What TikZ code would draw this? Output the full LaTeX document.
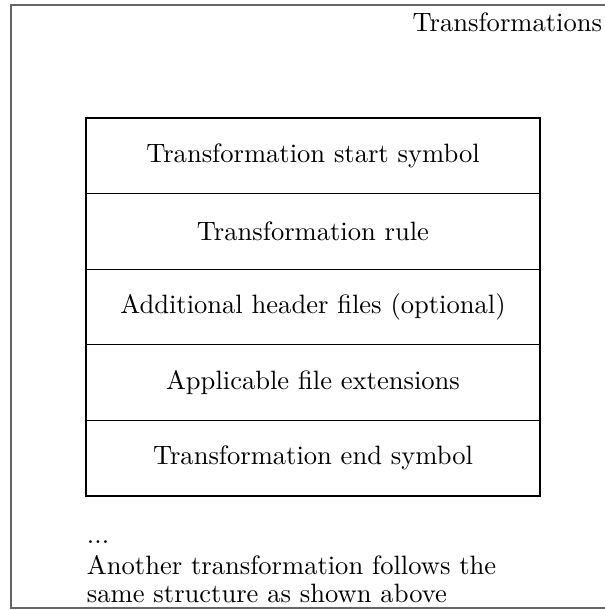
\documentclass[tikz,border=0pt]{standalone}
\begin{document}
\begin{tikzpicture}[x=0.3766pt,y=-0.3766pt,
  framebox/.style={draw=black!60,line width=0.4pt},
  rowbox/.style={draw=black,line width=0.4pt,minimum width=454*0.3766pt,
    minimum height=75.6*0.3766pt,inner sep=0pt,outer sep=0pt,anchor=north west},
  plain/.style={inner sep=0pt,outer sep=0pt}]
\useasboundingbox (0,0) rectangle (605,610);
% outer container, its right side runs past the page
\draw[framebox] (640,5) -- (11,5) -- (11,608) -- (640,608);
\node[plain,anchor=base east] (title) at (602,31) {Transformations};
% stacked fields of one transformation
\node[rowbox] (r1) at (86,118) {Transformation start symbol};
\node[rowbox] (r2) at (r1.south west) {Transformation rule};
\node[rowbox] (r3) at (r2.south west) {Additional header files (optional)};
\node[rowbox] (r4) at (r3.south west) {Applicable file extensions};
\node[rowbox] (r5) at (r4.south west) {Transformation end symbol};
% closing remark below the stack
\node[plain,anchor=base west] (dots) at (87,543) {...};
\node[plain,anchor=base west] (note1) at (87,574) {Another transformation follows the};
\node[plain,anchor=base west] (note2) at (87,602) {same structure as shown above};
\end{tikzpicture}
\end{document}
